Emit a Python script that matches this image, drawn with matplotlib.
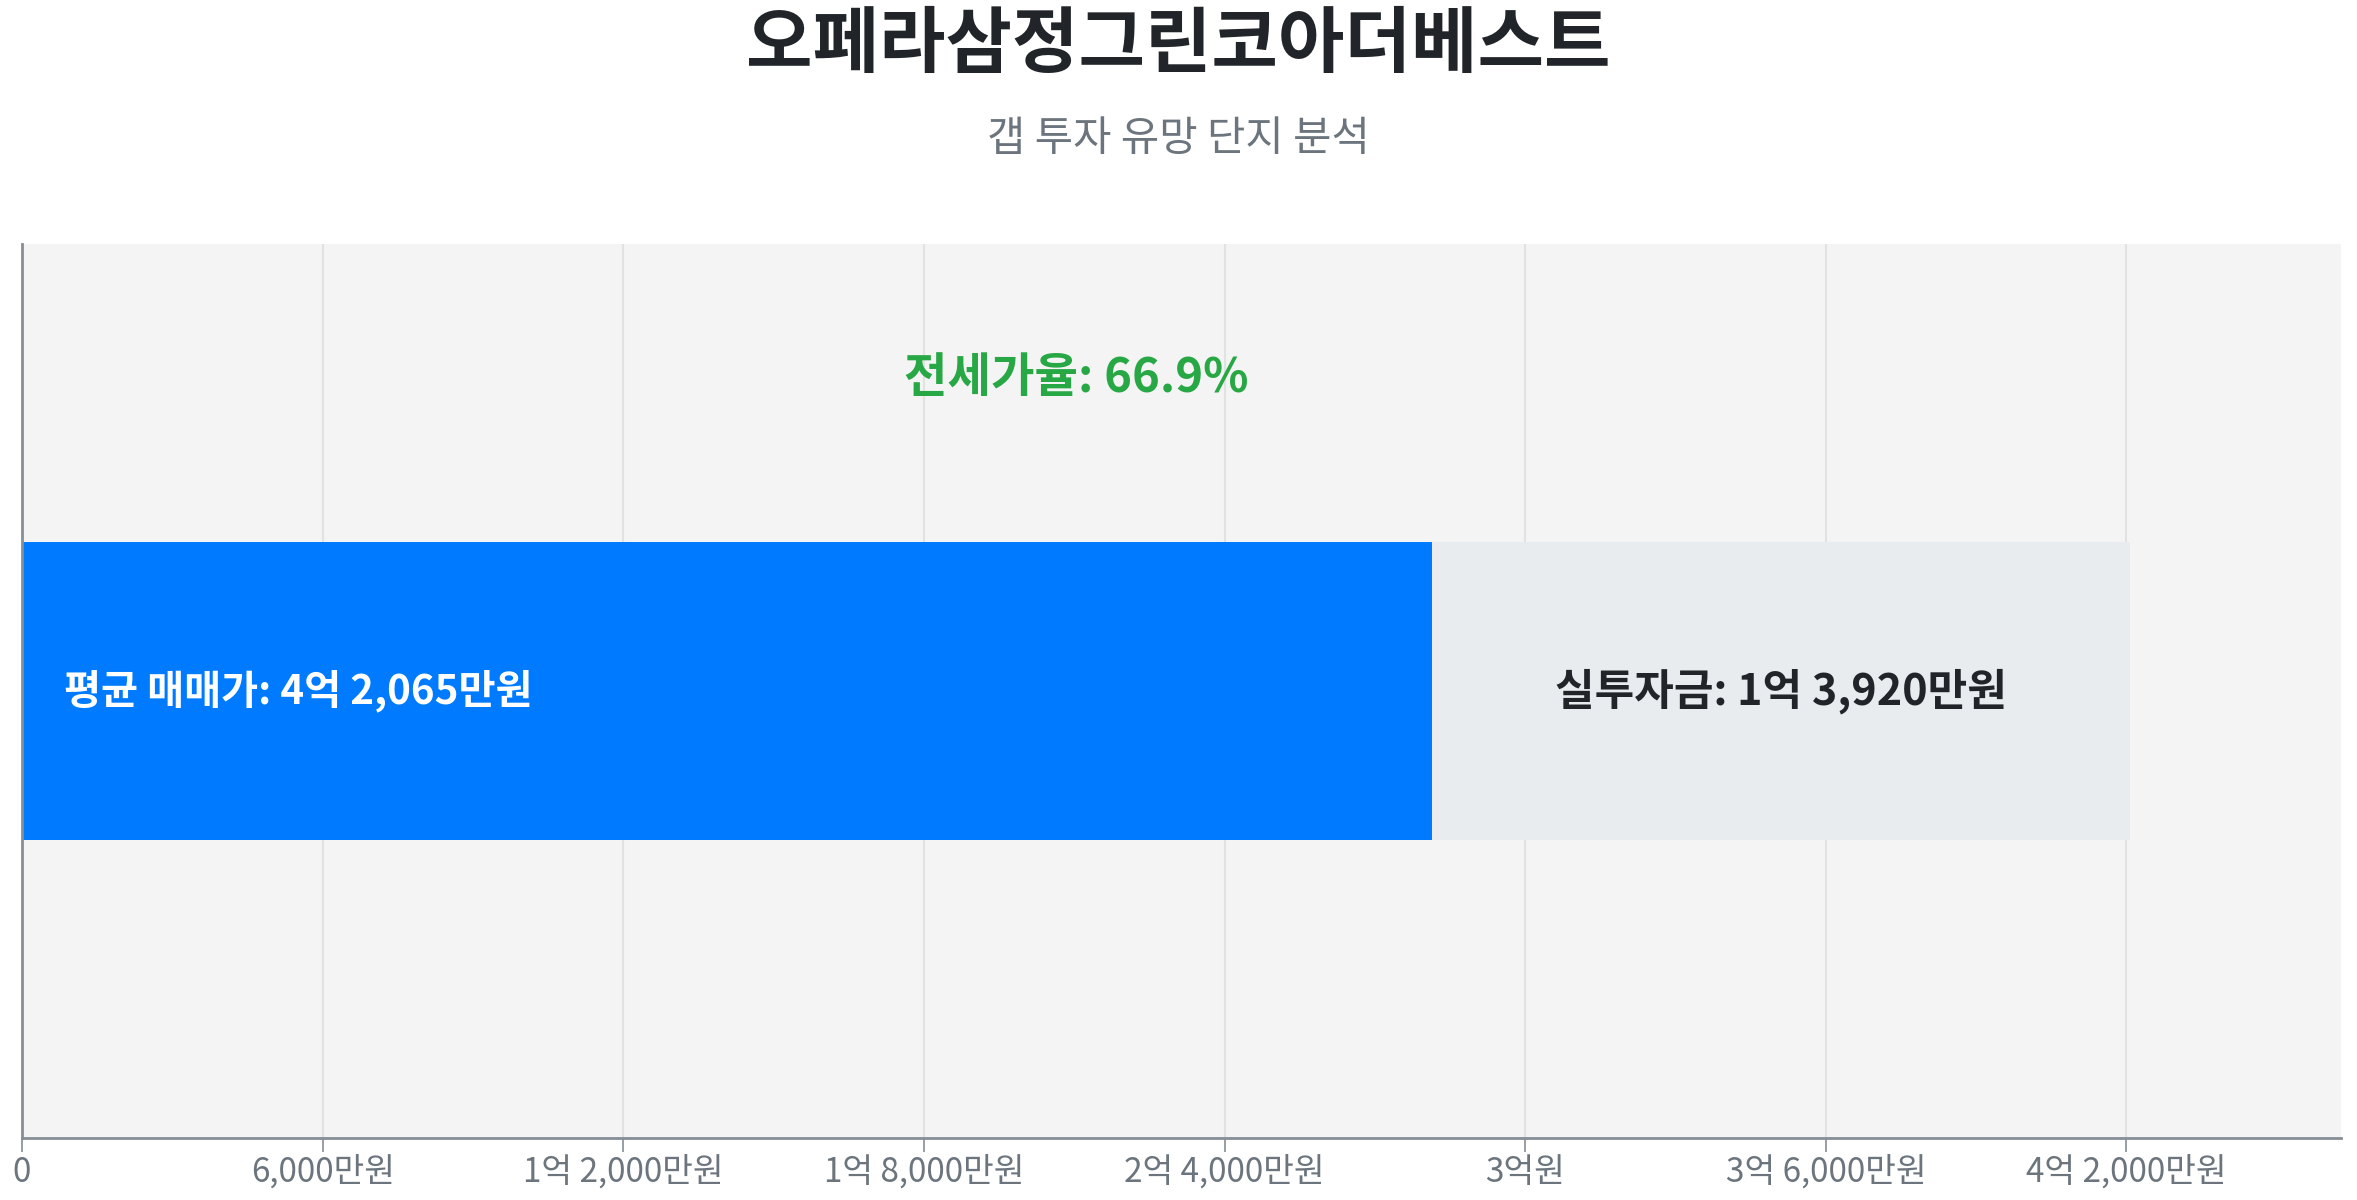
import numpy as np
import matplotlib
matplotlib.use("Agg")
import matplotlib.pyplot as plt
from matplotlib.ticker import FuncFormatter

plt.rcParams['font.family'] = ['Noto Sans CJK KR', 'DejaVu Sans']

# Data (만원 단위)
complex_name = "오페라삼정그린코아더베스트"
subtitle = "갭 투자 유망 단지 분석"
sale_price = 42065
cash_needed = 13920
jeonse_price = sale_price - cash_needed
jeonse_ratio = 66.9
tick_step = 6000


def fmt_manwon(v):
    v = int(round(v))
    if v == 0:
        return "0"
    eok, man = divmod(v, 10000)
    if eok and man:
        return f"{eok}억 {man:,}만원"
    if eok:
        return f"{eok}억원"
    return f"{man:,}만원"


fig = plt.figure(figsize=(23.57, 12), dpi=100)
ax = fig.add_axes([0.0093, 0.0517, 0.9837, 0.745])
ax.set_facecolor("#f4f4f4")

# bars
ax.barh(0, jeonse_price, height=1.0, color="#007bff", zorder=2)
ax.barh(0, sale_price - jeonse_price, left=jeonse_price, height=1.0,
        color="#e9ecef", zorder=2)

ax.text(sale_price * 0.02, 0, f"평균 매매가: {fmt_manwon(sale_price)}",
        color="white", fontsize=29, fontweight="bold", va="center", ha="left", zorder=3)
ax.text((jeonse_price + sale_price) / 2, 0, f"실투자금: {fmt_manwon(cash_needed)}",
        color="#212529", fontsize=31, fontweight="bold", va="center", ha="center", zorder=3)
ax.text(sale_price / 2, 1.05, f"전세가율: {jeonse_ratio}%",
        color="#28a745", fontsize=34, fontweight="bold", va="center", ha="center", zorder=3)

xmax = sale_price * 1.1
ax.set_xlim(0, xmax)
ax.set_ylim(-1.5, 1.5)
ax.set_xticks(np.arange(0, xmax, tick_step))
ax.xaxis.set_major_formatter(FuncFormatter(lambda v, p: fmt_manwon(v)))
ax.set_yticks([])
ax.grid(axis="x", color="#e2e2e2", linewidth=1.5, zorder=0)
ax.set_axisbelow(True)

for s in ["top", "right"]:
    ax.spines[s].set_visible(False)
for s in ["left", "bottom"]:
    ax.spines[s].set_color("#868e96")
    ax.spines[s].set_linewidth(2)
ax.tick_params(axis="x", colors="#868e96", length=10, width=1.2, labelsize=24,
               labelcolor="#6c757d", pad=2)

fig.text(0.5, 1 - 46 / 1200, complex_name, ha="center", va="center",
         fontsize=52, fontweight="bold", color="#212529")
fig.text(0.5, 1 - 140 / 1200, subtitle, ha="center", va="center",
         fontsize=30, color="#6c757d")

fig.savefig("out.png", dpi=100, facecolor="white")
